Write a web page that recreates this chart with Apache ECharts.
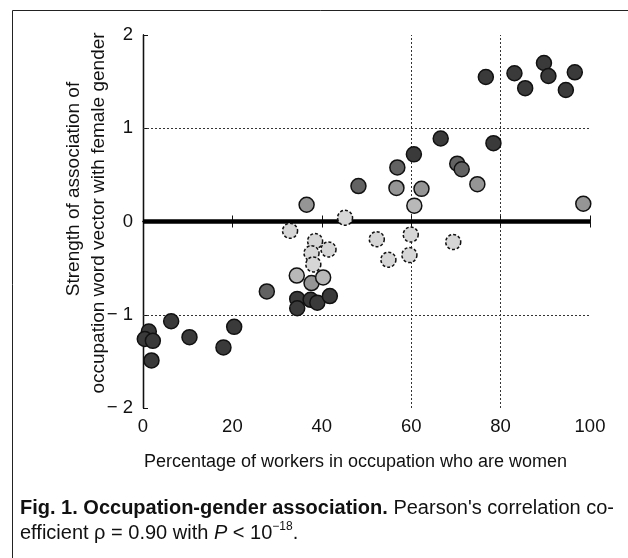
<!DOCTYPE html>
<html>
<head>
  <meta charset="utf-8">
  <title>Occupation-gender association</title>
  <script src="https://cdn.jsdelivr.net/npm/echarts@6/dist/echarts.min.js"></script>
  <style>
    html, body { margin: 0; padding: 0; background: #fff; }
    #chart { width: 628px; height: 558px; }
  </style>
</head>
<body>
  <div id="chart"></div>
  <script>
    // Datos: % de mujeres en la ocupacion / fuerza de asociacion
    const darkPct = [76.7, 83.1, 85.5, 89.7, 90.7, 96.6, 94.6, 66.6, 78.4, 60.6,
                     6.3, 1.3, 0.4, 2.2, 1.9, 10.4, 18.0, 20.4,
                     34.5, 34.5, 37.5, 39.0, 41.8];
    const darkStrength = [1.55, 1.59, 1.43, 1.70, 1.56, 1.60, 1.41, 0.89, 0.84, 0.72,
                          -1.07, -1.18, -1.26, -1.28, -1.49, -1.24, -1.35, -1.13,
                          -0.83, -0.93, -0.84, -0.87, -0.80];

    const midDarkPct = [56.9, 70.3, 71.3, 48.2, 27.7];
    const midDarkStrength = [0.58, 0.62, 0.56, 0.38, -0.75];

    const mediumPct = [74.8, 56.7, 62.3, 36.6, 98.5, 37.7];
    const mediumStrength = [0.40, 0.36, 0.35, 0.18, 0.19, -0.66];

    const paleMidPct = [60.7, 40.3, 34.4];
    const paleMidStrength = [0.17, -0.60, -0.58];

    const lightPct = [45.2, 32.9, 52.3, 38.5, 41.5, 37.7, 38.1, 59.9, 54.9, 59.6, 69.4];
    const lightStrength = [0.04, -0.10, -0.19, -0.21, -0.30, -0.34, -0.46, -0.14, -0.41, -0.36, -0.22];

    const xTicks = [0, 20, 40, 60, 80, 100];
    const yTicks = [-2, -1, 0, 1, 2];

    const font = "'Liberation Sans', Arial, sans-serif";

    function pares(xs, ys) {
      return xs.map((x, i) => [x, ys[i]]);
    }

    function puntos(nombre, xs, ys, relleno, tipoBorde) {
      return {
        name: nombre,
        type: 'scatter',
        z: 5,
        symbolSize: 15,
        data: pares(xs, ys),
        itemStyle: {
          color: relleno,
          opacity: 1,
          borderColor: '#111',
          borderWidth: 1.5,
          borderType: tipoBorde
        }
      };
    }

    var myChart = echarts.init(document.getElementById('chart'));

    var option = {
      animation: false,
      backgroundColor: '#fff',
      grid: { left: 143, right: 38, top: 35, bottom: 150 },
      xAxis: [
        {
          type: 'value',
          position: 'bottom',
          min: xTicks[0],
          max: xTicks[xTicks.length - 1],
          interval: 20,
          name: 'Percentage of workers in occupation who are women',
          nameLocation: 'middle',
          nameGap: 45,
          nameTextStyle: { fontFamily: font, fontSize: 18, color: '#111', padding: [0, 22, 0, 0] },
          axisLine: { lineStyle: { color: '#111', width: 1.3 } },
          axisTick: { inside: true, length: 6, lineStyle: { color: '#111' } },
          axisLabel: { fontFamily: font, fontSize: 18.5, color: '#111', margin: 9 },
          splitLine: { show: false }
        },
        {
          type: 'value',
          position: 'top',
          min: xTicks[0],
          max: xTicks[xTicks.length - 1],
          interval: 20,
          axisLine: { lineStyle: { color: '#111', width: 1.3 } },
          axisTick: { inside: true, length: 6, lineStyle: { color: '#111' } },
          axisLabel: { show: false },
          splitLine: { show: false }
        }
      ],
      yAxis: [
        {
          type: 'value',
          position: 'left',
          min: yTicks[0],
          max: yTicks[yTicks.length - 1],
          interval: 1,
          axisLine: { lineStyle: { color: '#111', width: 1.3 } },
          axisTick: { inside: true, length: 5, lineStyle: { color: '#111' } },
          axisLabel: {
            fontFamily: font, fontSize: 18.5, color: '#111', margin: 10,
            formatter: v => v < 0 ? '\u2212 ' + Math.abs(v) : String(v)
          },
          splitLine: { show: false }
        },
        {
          type: 'value',
          position: 'right',
          min: yTicks[0],
          max: yTicks[yTicks.length - 1],
          interval: 1,
          axisLine: { lineStyle: { color: '#111', width: 1.3 } },
          axisTick: { show: false },
          axisLabel: { show: false },
          splitLine: { show: false }
        }
      ],
      series: [
        {
          // lineas de referencia de la figura
          name: 'guias',
          type: 'scatter',
          z: 1,
          data: [],
          markLine: {
            silent: true,
            symbol: 'none',
            label: { show: false },
            animation: false,
            lineStyle: { color: '#333', width: 1, type: [2, 2] },
            data: [
              { xAxis: 60 },
              { xAxis: 80 },
              { yAxis: 1 },
              { yAxis: -1 },
              { yAxis: 0, lineStyle: { color: '#000', width: 4.5, type: 'solid' } }
            ]
          }
        },
        puntos('dark', darkPct, darkStrength, '#3a3a3a', 'solid'),
        puntos('midDark', midDarkPct, midDarkStrength, '#626262', 'solid'),
        puntos('medium', mediumPct, mediumStrength, '#959595', 'solid'),
        puntos('paleMid', paleMidPct, paleMidStrength, '#b8b8b8', 'solid'),
        puntos('light', lightPct, lightStrength, '#d6d6d6', [3, 2])
      ],
      graphic: [
        {
          type: 'rect',
          silent: true,
          shape: { x: 12.5, y: 10.5, width: 700, height: 700 },
          style: { fill: 'none', stroke: '#222', lineWidth: 1 }
        },
        {
          type: 'text',
          x: 74, y: 189,
          rotation: Math.PI / 2,
          style: {
            text: 'Strength of association of',
            fontFamily: font, fontSize: 19, fill: '#111',
            align: 'center', verticalAlign: 'middle'
          }
        },
        {
          type: 'text',
          x: 99, y: 213,
          rotation: Math.PI / 2,
          style: {
            text: 'occupation word vector with female gender',
            fontFamily: font, fontSize: 19, fill: '#111',
            align: 'center', verticalAlign: 'middle'
          }
        },
        {
          type: 'text',
          left: 20, top: 498,
          style: {
            text: '{b|Fig. 1. Occupation-gender association.} {r|Pearson\'s correlation co-}\n' +
                  '{r|efficient \u03c1 = 0.90 with }{i|P}{r| < 10}{s|\u221218}{r|.}',
            fontFamily: font, fontSize: 20, fill: '#111',
            rich: {
              b: { fontFamily: font, fontSize: 20, fontWeight: 'bold', lineHeight: 25, fill: '#111' },
              r: { fontFamily: font, fontSize: 20, lineHeight: 25, fill: '#111' },
              i: { fontFamily: font, fontSize: 20, fontStyle: 'italic', lineHeight: 25, fill: '#111' },
              s: { fontFamily: font, fontSize: 12, lineHeight: 25, verticalAlign: 'top', fill: '#111' }
            }
          }
        }
      ]
    };

    myChart.setOption(option);
  </script>
</body>
</html>
